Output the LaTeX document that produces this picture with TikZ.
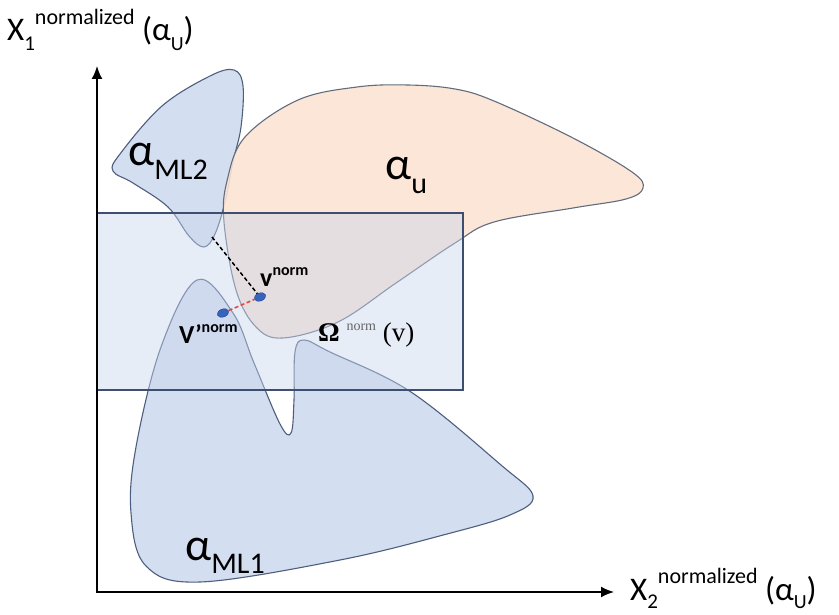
\documentclass[tikz,border=0pt]{standalone}
\usepackage{fontspec}
\setmainfont{Carlito}
\newfontfamily\tnr{Liberation Serif}
\usetikzlibrary{arrows.meta,shapes.geometric}
\definecolor{mlfill}{HTML}{CCD8EE}
\definecolor{mlline}{HTML}{4E5E7E}
\definecolor{ufill}{HTML}{FBE3D3}
\definecolor{uline}{HTML}{626C7C}
\definecolor{rfill}{HTML}{CAD6EE}
\definecolor{rline}{HTML}{3E4E70}
\definecolor{dotblue}{HTML}{3563BE}
\definecolor{dred}{HTML}{E8483C}
\definecolor{normgray}{HTML}{666666}
\newcommand{\fs}[1]{\fontsize{#1}{#1}\selectfont}
\tikzset{
  region/.style={line width=1.1pt, smooth cycle, tension=0.6},
  axis/.style={line width=1.8pt, -{Latex[length=13pt,width=11pt]}},
  lbl/.style={inner sep=0pt, anchor=base west},
  dotv/.style={ellipse, fill=dotblue, minimum width=12pt, minimum height=8pt, inner sep=0pt, draw=dotblue!70!black, line width=0.4pt}
}
\begin{document}
\begin{tikzpicture}[x=1pt,y=-1pt]
\useasboundingbox (0,0) rectangle (839,615);
% ML1
\draw[region, draw=mlline, fill=mlfill, fill opacity=0.85] plot coordinates {
 (197,280) (233,313) (254,363) (280,424) (291,433) (294,400) (295,352) (304,340) (330,352)
 (411,392) (501,465) (533,496) (510,515) (447,534) (340,560) (200,582) (146,566)
 (131,513) (136,447) (161,347)};
% ML2
\draw[region, draw=mlline, fill=mlfill, fill opacity=0.85] plot coordinates {
 (234,70) (243,86) (241,127) (233,162) (225,202) (215,234) (204,247) (189,236)
 (168,207) (133,183) (113,171) (120,154) (162,106) (210,76)};
% alpha_u
\draw[region, draw=uline, fill=ufill, fill opacity=0.9] plot coordinates {
 (408,85) (455,89) (494,101) (573,138) (632,172) (643,188) (626,199) (573,208)
 (494,222) (455,243) (396,283) (338,322) (283,338) (256,327) (236,290) (224,222)
 (227,181) (245,137) (298,100) (357,87)};
% rectangle Omega
\draw[draw=rline, line width=1.1pt, fill=rfill, fill opacity=0.45] (97,213) rectangle (463,390);
% axes
\coordinate (o) at (97,592);
\coordinate (ytip) at (97,66);
\coordinate (xtip) at (614,592);
\draw[axis] (o) -- (ytip);
\draw[axis] ([xshift=-0.9pt]o) -- (xtip);
% points
\node[dotv, rotate=20] (v) at (260,297) {};
\node[dotv, rotate=20] (vp) at (223,313) {};
\coordinate (ml2pt) at (212,237);
\draw[dashed, line width=1.5pt, dash pattern=on 4pt off 2.5pt] (ml2pt) -- (v);
\draw[dred, dashed, line width=1.6pt, dash pattern=on 4pt off 2.5pt] (vp) -- (v);
% labels
\node[lbl] (ylab) at (7,41) {\fs{33}X\raisebox{-0.28em}{\fs{21}1}\raisebox{0.5em}{\fs{22}normalized} (α\raisebox{-0.28em}{\fs{20}U})};
\node[lbl] (xlab) at (630,600) {\fs{33}X\raisebox{-0.25em}{\fs{21}2}\raisebox{0.5em}{\fs{22}normalized} (α\raisebox{-0.25em}{\fs{20}U})};
\node[lbl] (lml2) at (128,166) {\fs{46}α\raisebox{-0.3em}{\fs{30}ML2}};
\node[lbl] (lu) at (385,180) {\fs{46}α\raisebox{-0.3em}{\fs{30}u}};
\node[lbl] (lml1) at (185,560) {\fs{46}α\raisebox{-0.3em}{\fs{30}ML1}};
\node[lbl] (lv) at (260,287) {\fs{26}\bfseries v\raisebox{0.45em}{\fs{16}\bfseries norm}};
\node[lbl] (lvp) at (179,343) {\fs{26}\bfseries V'\raisebox{0.4em}{\fs{16}\bfseries norm}};
\node[lbl] (lom) at (318,341) {\tnr\fs{27}\textbf{Ω} \raisebox{0.4em}{\fs{14}\color{normgray}norm} (v)};
\end{tikzpicture}
\end{document}
